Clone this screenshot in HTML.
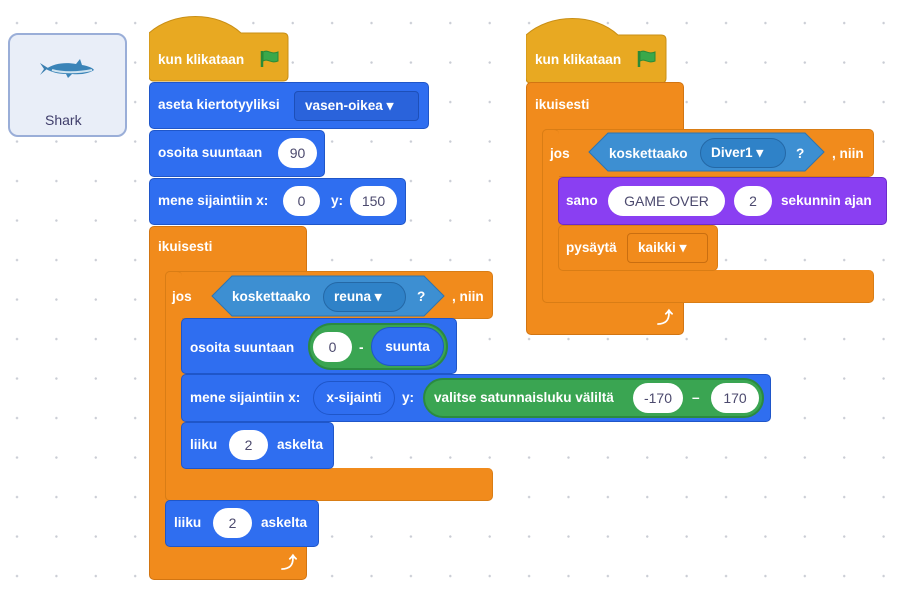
<!DOCTYPE html>
<html><head><meta charset="utf-8"><style>
html,body{margin:0;padding:0}
body{width:899px;height:590px;position:relative;overflow:hidden;background-color:#fff;
background-image:radial-gradient(circle,#c9ccd4 1px,transparent 1.4px);
background-size:39.4px 39.5px;background-position:-2.7px 3.3px;
font-family:"Liberation Sans",sans-serif;font-weight:bold;font-size:13.6px}
div,span{position:absolute;box-sizing:border-box}
.t{color:#fff;white-space:nowrap;line-height:16px;height:16px}
.bl{background:#2f6ef0;border:1px solid #1f56c9;border-radius:5px}
.or{background:#f18b1c;border-radius:5px}
.pu{background:#8a3ff2;border:1px solid #6d2bcc;border-radius:5px}
.ov{background:#fff;border-radius:17px;color:#4c4a6e;text-align:center;line-height:30px;height:30px;font-weight:normal;font-size:14px}
.dd{border-radius:4px;color:#fff;line-height:28px;height:30px;padding-left:10px;white-space:nowrap}
.gr{background:#3aa552;border:2px solid #2b8a40;border-radius:24px}
</style></head><body>

<!-- sprite card -->
<div style="left:8px;top:33px;width:119px;height:104px;background:#e9eef8;border:2px solid #9aaed8;border-radius:10px"></div>
<svg style="position:absolute;left:38px;top:57px" width="58" height="24" viewBox="0 0 58 24">
<path d="M2 6 L10 11 L2 18 L6 12 Z" fill="#3c7fb0"/>
<path d="M8 12 C16 6 28 5 38 7 L42 2 L44 8 C50 9 55 11 56 13 C52 16 44 18 34 17 L30 21 L28 17 C20 17 13 15 8 12 Z" fill="#3b84b8"/>
<path d="M14 13 C24 16 40 16 54 13" stroke="#cfe3f0" stroke-width="2" fill="none"/>
</svg>
<span class="t" style="left:45px;top:112px;color:#3f3d6a;font-weight:normal;font-size:14px">Shark</span>

<!-- LEFT SCRIPT -->
<svg style="position:absolute;left:149px;top:15px" width="140" height="67"><path d="M0 18 C25 -4 68 -4 92 18 H134 Q139 18 139 23 V61 Q139 66 134 66 H5 Q0 66 0 61 Z" fill="#e8a922" stroke="#c98f16"/></svg>
<span class="t" style="left:158px;top:52px">kun klikataan</span>
<svg style="position:absolute;left:259px;top:49px" width="22" height="20"><path d="M3 2 V18" stroke="#2a8a37" stroke-width="2.5"/><path d="M4 3 C9 0 12 6 19 3 V12 C12 15 9 9 4 12 Z" fill="#3aa84a" stroke="#2a8a37"/></svg>

<div class="bl" style="left:149px;top:82px;width:280px;height:47px"></div>
<span class="t" style="left:158px;top:97px">aseta kiertotyyliksi</span>
<div class="dd" style="left:294px;top:91px;width:125px;background:#2a63db;border:1px solid #1d4fb8">vasen-oikea ▾</div>

<div class="bl" style="left:149px;top:130px;width:176px;height:47px"></div>
<span class="t" style="left:158px;top:145px">osoita suuntaan</span>
<div class="ov" style="left:278px;top:138px;width:39px">90</div>

<div class="bl" style="left:149px;top:178px;width:257px;height:47px"></div>
<span class="t" style="left:158px;top:193px">mene sijaintiin x:</span>
<div class="ov" style="left:283px;top:186px;width:37px">0</div>
<span class="t" style="left:331px;top:193px">y:</span>
<div class="ov" style="left:350px;top:186px;width:47px">150</div>

<!-- forever left -->
<div class="or" style="left:149px;top:226px;width:158px;height:354px;border:1px solid #d27512"></div>
<span class="t" style="left:158px;top:239px">ikuisesti</span>
<span class="t" style="left:281px;top:556px;font-size:16px">⤴</span>

<!-- if (C shape) -->
<div class="or" style="left:165px;top:271px;width:328px;height:48px;border:1px solid #d97d15"></div>
<div class="or" style="left:165px;top:271px;width:17px;height:230px;border:1px solid #d97d15;border-right:none"></div>
<div class="or" style="left:165px;top:468px;width:328px;height:33px;border:1px solid #d97d15;border-top:none"></div>
<div style="left:166px;top:300px;width:15px;height:190px;background:#f18b1c"></div>
<span class="t" style="left:172px;top:289px">jos</span>
<svg style="position:absolute;left:211px;top:275px" width="234" height="42"><path d="M1 21 L21 1 H213 L233 21 L213 41 H21 Z" fill="#3d8fd2" stroke="#2d74b0"/></svg>
<span class="t" style="left:232px;top:289px">koskettaako</span>
<div class="dd" style="left:323px;top:282px;width:83px;background:#2f82c8;border:1px solid #2468a6;border-radius:15px">reuna ▾</div>
<span class="t" style="left:417px;top:289px">?</span>
<span class="t" style="left:452px;top:289px">, niin</span>

<div class="bl" style="left:181px;top:318px;width:276px;height:56px"></div>
<span class="t" style="left:190px;top:340px">osoita suuntaan</span>
<div class="gr" style="left:308px;top:323px;width:140px;height:47px"></div>
<div class="ov" style="left:313px;top:332px;width:39px">0</div>
<span class="t" style="left:359px;top:340px">-</span>
<div style="left:371px;top:327px;width:73px;height:39px;background:#2f6ef0;border:1px solid #1f56c9;border-radius:20px;color:#fff;text-align:center;line-height:37px">suunta</div>

<div class="bl" style="left:181px;top:374px;width:590px;height:48px"></div>
<span class="t" style="left:190px;top:390px">mene sijaintiin x:</span>
<div style="left:313px;top:381px;width:82px;height:34px;background:#2f6ef0;border:1px solid #1f56c9;border-radius:17px;color:#fff;text-align:center;line-height:32px">x-sijainti</div>
<span class="t" style="left:402px;top:390px">y:</span>
<div class="gr" style="left:423px;top:378px;width:341px;height:40px"></div>
<span class="t" style="left:434px;top:390px">valitse satunnaisluku väliltä</span>
<div class="ov" style="left:633px;top:383px;width:50px">-170</div>
<span class="t" style="left:692px;top:390px">–</span>
<div class="ov" style="left:711px;top:383px;width:48px">170</div>

<div class="bl" style="left:181px;top:422px;width:153px;height:47px"></div>
<span class="t" style="left:190px;top:437px">liiku</span>
<div class="ov" style="left:229px;top:430px;width:39px">2</div>
<span class="t" style="left:277px;top:437px">askelta</span>

<div class="bl" style="left:165px;top:500px;width:154px;height:47px"></div>
<span class="t" style="left:174px;top:515px">liiku</span>
<div class="ov" style="left:213px;top:508px;width:39px">2</div>
<span class="t" style="left:261px;top:515px">askelta</span>

<!-- RIGHT SCRIPT -->
<svg style="position:absolute;left:526px;top:17px" width="141" height="67"><path d="M0 18 C25 -4 68 -4 92 18 H135 Q140 18 140 23 V61 Q140 66 135 66 H5 Q0 66 0 61 Z" fill="#e8a922" stroke="#c98f16"/></svg>
<span class="t" style="left:535px;top:52px">kun klikataan</span>
<svg style="position:absolute;left:636px;top:49px" width="22" height="20"><path d="M3 2 V18" stroke="#2a8a37" stroke-width="2.5"/><path d="M4 3 C9 0 12 6 19 3 V12 C12 15 9 9 4 12 Z" fill="#3aa84a" stroke="#2a8a37"/></svg>

<div class="or" style="left:526px;top:82px;width:158px;height:253px;border:1px solid #d27512"></div>
<span class="t" style="left:535px;top:97px">ikuisesti</span>
<span class="t" style="left:657px;top:311px;font-size:16px">⤴</span>

<div class="or" style="left:542px;top:129px;width:332px;height:48px;border:1px solid #d97d15"></div>
<div class="or" style="left:542px;top:129px;width:17px;height:174px;border:1px solid #d97d15;border-right:none"></div>
<div class="or" style="left:542px;top:270px;width:332px;height:33px;border:1px solid #d97d15;border-top:none"></div>
<div style="left:543px;top:160px;width:15px;height:120px;background:#f18b1c"></div>
<span class="t" style="left:550px;top:146px">jos</span>
<svg style="position:absolute;left:588px;top:132px" width="238" height="40"><path d="M1 20 L20 1 H217 L236 20 L217 39 H20 Z" fill="#3d8fd2" stroke="#2d74b0"/></svg>
<span class="t" style="left:609px;top:146px">koskettaako</span>
<div class="dd" style="left:700px;top:138px;width:86px;background:#2f82c8;border:1px solid #2468a6;border-radius:15px">Diver1 ▾</div>
<span class="t" style="left:796px;top:146px">?</span>
<span class="t" style="left:832px;top:146px">, niin</span>

<div class="pu" style="left:558px;top:177px;width:329px;height:48px"></div>
<span class="t" style="left:566px;top:193px">sano</span>
<div class="ov" style="left:608px;top:186px;width:117px">GAME OVER</div>
<div class="ov" style="left:734px;top:186px;width:38px">2</div>
<span class="t" style="left:781px;top:193px">sekunnin ajan</span>

<div class="or" style="left:558px;top:225px;width:160px;height:46px;border:1px solid #d97d15"></div>
<span class="t" style="left:566px;top:240px">pysäytä</span>
<div class="dd" style="left:627px;top:233px;width:81px;background:#f18b1c;border:1px solid #c96e10">kaikki ▾</div>

</body></html>
